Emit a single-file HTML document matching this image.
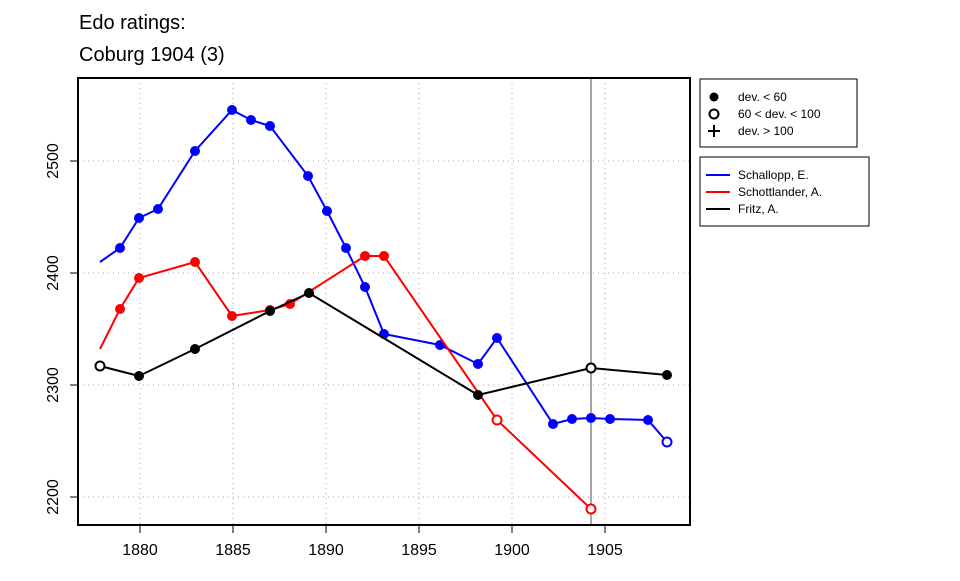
<!DOCTYPE html>
<html><head><style>body{margin:0;background:#fff}</style></head><body>
<svg width="960" height="576" xmlns="http://www.w3.org/2000/svg" font-family="Liberation Sans, sans-serif">
<rect width="960" height="576" fill="#fff"/>
<text x="79" y="29" font-size="20">Edo ratings:</text>
<text x="79" y="61" font-size="20">Coburg 1904 (3)</text>
<g stroke="#aaa" stroke-dasharray="1,4" stroke-width="1">
<line x1="140" y1="78" x2="140" y2="525"/><line x1="233" y1="78" x2="233" y2="525"/>
<line x1="326" y1="78" x2="326" y2="525"/><line x1="419" y1="78" x2="419" y2="525"/>
<line x1="512" y1="78" x2="512" y2="525"/><line x1="605" y1="78" x2="605" y2="525"/>
<line x1="78" y1="161" x2="690" y2="161"/><line x1="78" y1="273" x2="690" y2="273"/>
<line x1="78" y1="385" x2="690" y2="385"/><line x1="78" y1="497" x2="690" y2="497"/>
</g>
<line x1="591" y1="78" x2="591" y2="525" stroke="#000" stroke-width="0.7"/>
<g stroke="#000" stroke-width="1">
<line x1="140" y1="525" x2="605" y2="525"/>
<line x1="140" y1="525" x2="140" y2="533"/><line x1="233" y1="525" x2="233" y2="533"/>
<line x1="326" y1="525" x2="326" y2="533"/><line x1="419" y1="525" x2="419" y2="533"/>
<line x1="512" y1="525" x2="512" y2="533"/><line x1="605" y1="525" x2="605" y2="533"/>
<line x1="78" y1="161" x2="78" y2="497"/>
<line x1="70" y1="161" x2="78" y2="161"/><line x1="70" y1="273" x2="78" y2="273"/>
<line x1="70" y1="385" x2="78" y2="385"/><line x1="70" y1="497" x2="78" y2="497"/>
</g>
<g font-size="16" text-anchor="middle">
<text x="140" y="555">1880</text><text x="233" y="555">1885</text><text x="326" y="555">1890</text>
<text x="419" y="555">1895</text><text x="512" y="555">1900</text><text x="605" y="555">1905</text>
<text transform="translate(58,161) rotate(-90)">2500</text>
<text transform="translate(58,273) rotate(-90)">2400</text>
<text transform="translate(58,385) rotate(-90)">2300</text>
<text transform="translate(58,497) rotate(-90)">2200</text>
</g>
<rect x="78" y="78" width="612" height="447" fill="none" stroke="#000" stroke-width="2"/>
<polyline fill="none" stroke="#00f" stroke-width="2" points="100,262 120,248 139,218 158,209 195,151 232,110 251,120 270,126 308,176 327,211 346,248 365,287 384,334 440,345 478,364 497,338 553,424 572,419 591,418 610,419 648,420 667,442"/>
<g fill="#00f"><circle cx="120" cy="248" r="5"/><circle cx="139" cy="218" r="5"/><circle cx="158" cy="209" r="5"/><circle cx="195" cy="151" r="5"/><circle cx="232" cy="110" r="5"/><circle cx="251" cy="120" r="5"/><circle cx="270" cy="126" r="5"/><circle cx="308" cy="176" r="5"/><circle cx="327" cy="211" r="5"/><circle cx="346" cy="248" r="5"/><circle cx="365" cy="287" r="5"/><circle cx="384" cy="334" r="5"/><circle cx="440" cy="345" r="5"/><circle cx="478" cy="364" r="5"/><circle cx="497" cy="338" r="5"/><circle cx="553" cy="424" r="5"/><circle cx="572" cy="419" r="5"/><circle cx="591" cy="418" r="5"/><circle cx="610" cy="419" r="5"/><circle cx="648" cy="420" r="5"/></g>
<circle cx="667" cy="442" r="4.5" fill="#fff" stroke="#00f" stroke-width="2"/>
<polyline fill="none" stroke="#f00" stroke-width="2" points="100,349 120,309 139,278 195,262 232,316 270,310 290,304 365,256 384,256 497,420 591,509"/>
<g fill="#f00"><circle cx="120" cy="309" r="5"/><circle cx="139" cy="278" r="5"/><circle cx="195" cy="262" r="5"/><circle cx="232" cy="316" r="5"/><circle cx="270" cy="310" r="5"/><circle cx="290" cy="304" r="5"/><circle cx="365" cy="256" r="5"/><circle cx="384" cy="256" r="5"/></g>
<circle cx="497" cy="420" r="4.5" fill="#fff" stroke="#f00" stroke-width="2"/>
<circle cx="591" cy="509" r="4.5" fill="#fff" stroke="#f00" stroke-width="2"/>
<polyline fill="none" stroke="#000" stroke-width="2" points="100,366 139,376 195,349 270,311 309,293 478,395 591,368 667,375"/>
<g fill="#000"><circle cx="139" cy="376" r="5"/><circle cx="195" cy="349" r="5"/><circle cx="270" cy="311" r="5"/><circle cx="309" cy="293" r="5"/><circle cx="478" cy="395" r="5"/><circle cx="667" cy="375" r="5"/></g>
<circle cx="100" cy="366" r="4.5" fill="#fff" stroke="#000" stroke-width="2"/>
<circle cx="591" cy="368" r="4.5" fill="#fff" stroke="#000" stroke-width="2"/>
<rect x="700" y="79" width="157" height="68" fill="#fff" stroke="#000"/>
<circle cx="714" cy="97" r="4.5" fill="#000"/>
<circle cx="714" cy="114" r="4.5" fill="#fff" stroke="#000" stroke-width="2"/>
<path d="M708 131h12M714 125v12" stroke="#000" stroke-width="2"/>
<g font-size="12"><text x="738" y="101">dev. &lt; 60</text><text x="738" y="118">60 &lt; dev. &lt; 100</text><text x="738" y="135">dev. &gt; 100</text></g>
<rect x="700" y="157" width="169" height="69" fill="#fff" stroke="#000"/>
<line x1="706" y1="175" x2="730" y2="175" stroke="#00f" stroke-width="2"/>
<line x1="706" y1="192" x2="730" y2="192" stroke="#f00" stroke-width="2"/>
<line x1="706" y1="209" x2="730" y2="209" stroke="#000" stroke-width="2"/>
<g font-size="12"><text x="738" y="179">Schallopp, E.</text><text x="738" y="196">Schottlander, A.</text><text x="738" y="213">Fritz, A.</text></g>
</svg>
</body></html>
